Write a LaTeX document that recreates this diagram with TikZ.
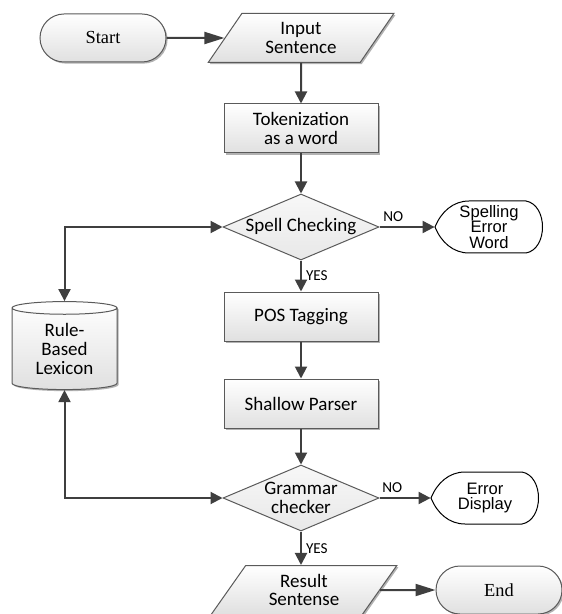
\documentclass[tikz,border=0pt]{standalone}
\usepackage{fontspec}
\setmainfont{Carlito}
\newfontfamily\serifface{Liberation Serif}
\newfontfamily\arialface{Liberation Sans}
\usetikzlibrary{shapes.geometric,shapes.misc,arrows.meta,shadows}
\definecolor{linegray}{HTML}{3F3F3F}
\definecolor{bordergray}{HTML}{5A5A5A}
\definecolor{fillbot}{HTML}{E0E0E0}
\begin{document}
\begin{tikzpicture}[x=0.5pt,y=-0.5pt,
    every node/.style={font=\fontsize{9.5}{9.4}\selectfont, align=center, inner sep=0pt},
    boxshadow/.style={drop shadow={shadow xshift=0.8pt,shadow yshift=-0.8pt,opacity=0.3,fill=black}},
    procbox/.style={rectangle, draw=bordergray, line width=0.5pt, top color=white, bottom color=fillbot,
        minimum width=77pt, minimum height=24.5pt, boxshadow},
    iobox/.style={trapezium, trapezium left angle=57, trapezium right angle=123, trapezium stretches=true,
        draw=bordergray, line width=0.5pt, top color=white, bottom color=fillbot,
        minimum width=93pt, minimum height=24.5pt, boxshadow},
    decision/.style={diamond, aspect=2.4, draw=bordergray, line width=0.5pt, top color=gray!6, bottom color=gray!18,
        minimum width=78pt, minimum height=33pt},
    terminal/.style={rounded rectangle, draw=bordergray, line width=0.5pt, top color=white, bottom color=fillbot,
        minimum width=63pt, minimum height=24pt, boxshadow, font=\serifface\fontsize{9.2}{10}\selectfont},
    lexstore/.style={cylinder, shape border rotate=90, aspect=0.22, draw=bordergray, line width=0.5pt,
        top color=white, bottom color=fillbot, minimum width=52.5pt, minimum height=44pt, boxshadow},
    dispbox/.style={minimum width=54pt, minimum height=26pt, font=\arialface\fontsize{8.3}{7.6}\selectfont},
    displine/.style={draw=black, line width=0.5pt},
    yesno/.style={font=\fontsize{7.6}{8}\selectfont, inner sep=2pt},
    flowarrow/.style={draw=linegray, line width=1pt, -{Triangle[length=6pt,width=6pt]}},
    longarrow/.style={draw=linegray, line width=1pt, -{Triangle[length=10pt,width=6pt]}},
    twoway/.style={draw=linegray, line width=1pt, {Triangle[length=6pt,width=6pt]}-{Triangle[length=6pt,width=6pt]}}]
    \useasboundingbox (0,0) rectangle (561,614);

    % Start and input
    \node[terminal] (start) at (103,38) {Start};
    \node[iobox] (input) at (301,38) {Input\\Sentence};

    % Main steps
    \node[procbox] (tok) at (301,128.5) {Tokenization\\as a word};
    \node[decision] (spell) at (301,227) {Spell Checking};
    \node[dispbox] (spellerr) at (489,227) {Spelling\\Error\\Word};
    \node[procbox] (pos) at (301,316.5) {POS Tagging};
    \node[procbox] (shallow) at (301,403.5) {Shallow Parser};
    \node[decision] (gram) at (301,498) {Grammar\\checker};
    \node[dispbox] (errdisp) at (485,498) {Error\\Display};
    \node[iobox] (result) at (304,590) {Result\\Sentense};
    \node[terminal] (stop) at (499,590) {End};

    % Lexicon
    \node[lexstore] (lex) at (64.5,349) {Rule-\\Based\\Lexicon};

    % Display outlines
    \draw[displine, shift={(spellerr.center)}] (-54,0) .. controls (-48,-15) and (-36,-26) .. (-20,-26)
        -- (37,-26) .. controls (59,-22) and (59,22) .. (37,26)
        -- (-20,26) .. controls (-36,26) and (-48,15) .. (-54,0) -- cycle;
    \draw[displine, shift={(errdisp.center)}] (-54,0) .. controls (-48,-15) and (-36,-26) .. (-20,-26)
        -- (37,-26) .. controls (59,-22) and (59,22) .. (37,26)
        -- (-20,26) .. controls (-36,26) and (-48,15) .. (-54,0) -- cycle;

    % Arrows
    \draw[longarrow] (start) -- (input);
    \draw[flowarrow] (input) -- (tok);
    \draw[flowarrow] (tok) -- (spell);
    \draw[flowarrow] (spell) -- node[yesno, pos=0.25, above] {NO} (spellerr);
    \draw[flowarrow] (spell) -- node[yesno, right] {YES} (pos);
    \draw[flowarrow] (pos) -- (shallow);
    \draw[flowarrow] (shallow) -- (gram);
    \draw[flowarrow] (gram) -- node[yesno, pos=0.25, above] {NO} (errdisp);
    \draw[flowarrow] (gram) -- node[yesno, right] {YES} (gram.south |- result.north);
    \draw[longarrow] (result) -- (stop);

    % Lexicon links
    \draw[twoway] (lex.north) |- (spell.west);
    \draw[twoway] (lex.south) |- (gram.west);
\end{tikzpicture}
\end{document}
